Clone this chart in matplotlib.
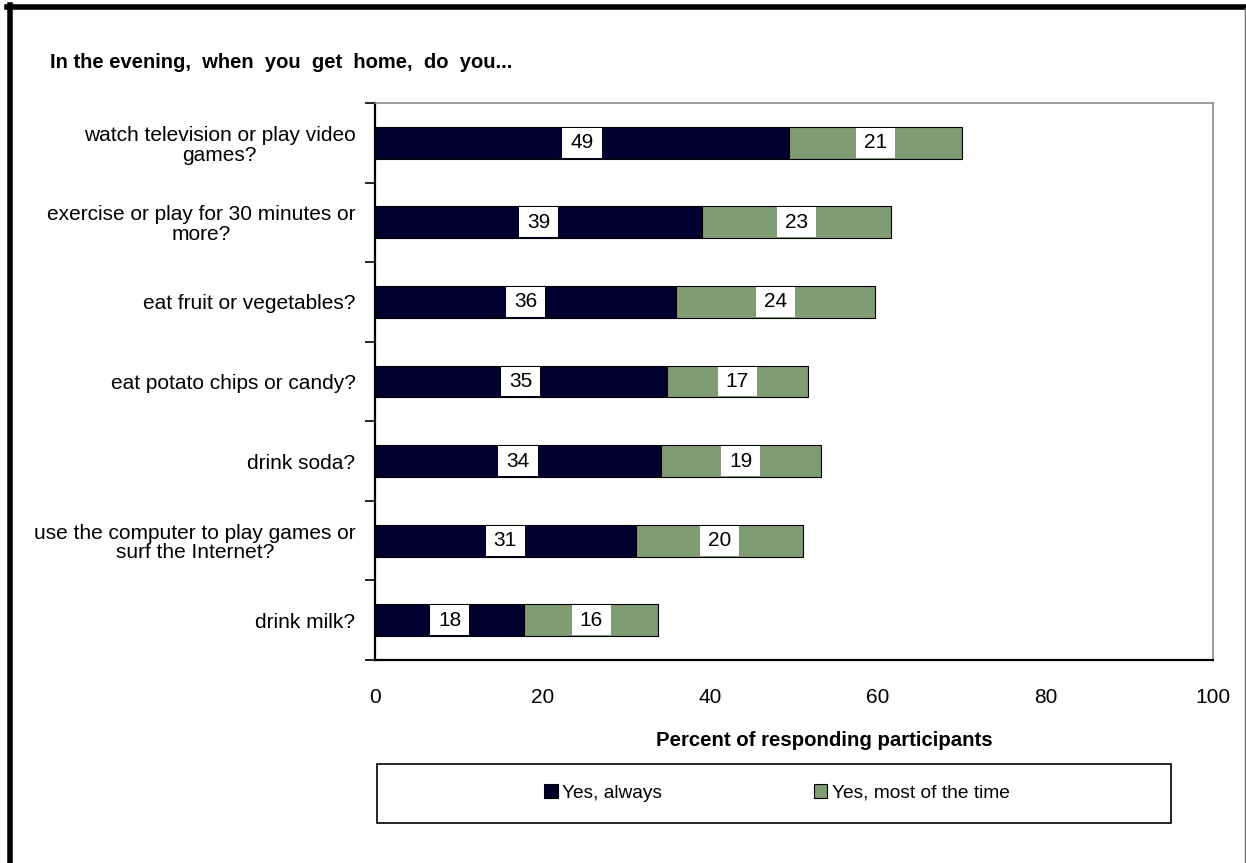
import matplotlib
matplotlib.use("Agg")
import matplotlib.pyplot as plt
from matplotlib.patches import Rectangle
from matplotlib.lines import Line2D
import numpy as np

plt.rcParams['font.family'] = ['Liberation Sans', 'DejaVu Sans']

categories = [
    "watch television or play video\ngames?",
    "exercise or play for 30 minutes or\nmore?",
    "eat fruit or vegetables?",
    "eat potato chips or candy?",
    "drink soda?",
    "use the computer to play games or\nsurf the Internet?",
    "drink milk?",
]
always = [49.4, 39.0, 35.9, 34.8, 34.1, 31.1, 17.8]
most_time = [20.6, 22.6, 23.8, 16.9, 19.1, 20.0, 16.0]
series_names = ["Yes, always", "Yes, most of the time"]
colors = ["#00002E", "#7F9C74"]
xticks = [0, 20, 40, 60, 80, 100]

W, H = 1246, 863
fig = plt.figure(figsize=(W / 100, H / 100), dpi=100)

def fx(px):
    return px / W

def fy(py):
    return 1 - py / H

ax = fig.add_axes([fx(375), fy(660), fx(1213) - fx(375), fy(103) - fy(660)])

y = np.arange(len(categories))
bar_h = 0.4
ax.barh(y, always, height=bar_h, color=colors[0], edgecolor='black', linewidth=0.8,
        label=series_names[0], zorder=2)
ax.barh(y, most_time, left=always, height=bar_h, color=colors[1], edgecolor='black',
        linewidth=0.8, label=series_names[1], zorder=2)

ax.set_xlim(0, 100)
ax.set_ylim(len(categories) - 0.5, -0.5)

value_texts = []
for i in range(len(categories)):
    t1 = ax.text(always[i] / 2, y[i], f"{always[i]:.0f}", ha='center', va='center',
                 fontsize=15, color='black', zorder=4)
    t2 = ax.text(always[i] + most_time[i] / 2, y[i], f"{most_time[i]:.0f}", ha='center',
                 va='center', fontsize=15, color='black', zorder=4)
    value_texts += [(t1, y[i]), (t2, y[i])]

ax.set_xticks(xticks)
ax.set_xticklabels([str(t) for t in xticks], fontsize=15)
ax.tick_params(axis='x', length=0, pad=20)

ax.set_yticks(y)
ax.set_yticklabels(categories, fontsize=15)
for lab in ax.get_yticklabels():
    lab.set_multialignment('center')
    lab.set_linespacing(1.05)
ax.tick_params(axis='y', which='major', length=0, pad=14)
ax.set_yticks(np.arange(-0.5, len(categories), 1.0), minor=True)
ax.tick_params(axis='y', which='minor', length=7, width=1.2, direction='out', color='black')

for side in ['left', 'bottom']:
    ax.spines[side].set_color('black')
    ax.spines[side].set_linewidth(1.6)
for side in ['top', 'right']:
    ax.spines[side].set_color('#8C8C8C')
    ax.spines[side].set_linewidth(1.2)

# white boxes behind value labels, sized from the rendered text
fig.canvas.draw()
renderer = fig.canvas.get_renderer()
inv = ax.transData.inverted()
for t, yc in value_texts:
    bb = t.get_window_extent(renderer)
    x0 = inv.transform((bb.x0 - 8, 0))[0]
    x1 = inv.transform((bb.x1 + 8, 0))[0]
    ax.add_patch(Rectangle((x0, yc - bar_h / 2 * 0.94), x1 - x0, bar_h * 0.94,
                           facecolor='white', edgecolor='none', zorder=3))

# Title and axis label
fig.text(fx(50), fy(62), "In the evening,  when  you  get  home,  do  you...", ha='left',
         va='center', fontsize=14.5, fontweight='bold')
fig.text(fx(824), fy(740), "Percent of responding participants", ha='center', va='center',
         fontsize=14.7, fontweight='bold')

# Legend box
fig.patches.append(Rectangle((fx(377), fy(823)), fx(1171) - fx(377), fy(764) - fy(823),
                             transform=fig.transFigure, facecolor='white', edgecolor='black',
                             linewidth=1.2, zorder=1))
handles, labels = ax.get_legend_handles_labels()
leg = fig.legend(handles, labels, loc='center', bbox_to_anchor=(fx(777), fy(793)),
                 ncol=2, frameon=False, fontsize=13.8, handlelength=0.7, handleheight=0.7,
                 handletextpad=0.25, columnspacing=7.9)

# Outer border
fig.add_artist(Line2D([fx(7), fx(1246)], [fy(7.5), fy(7.5)], transform=fig.transFigure,
                      color='black', linewidth=4))
fig.add_artist(Line2D([fx(9.5), fx(9.5)], [fy(5), fy(863)], transform=fig.transFigure,
                      color='black', linewidth=4))
fig.add_artist(Line2D([fx(1244.5), fx(1244.5)], [fy(8), fy(863)], transform=fig.transFigure,
                      color='#707070', linewidth=1))

fig.savefig("out.png", dpi=100, facecolor='white')
